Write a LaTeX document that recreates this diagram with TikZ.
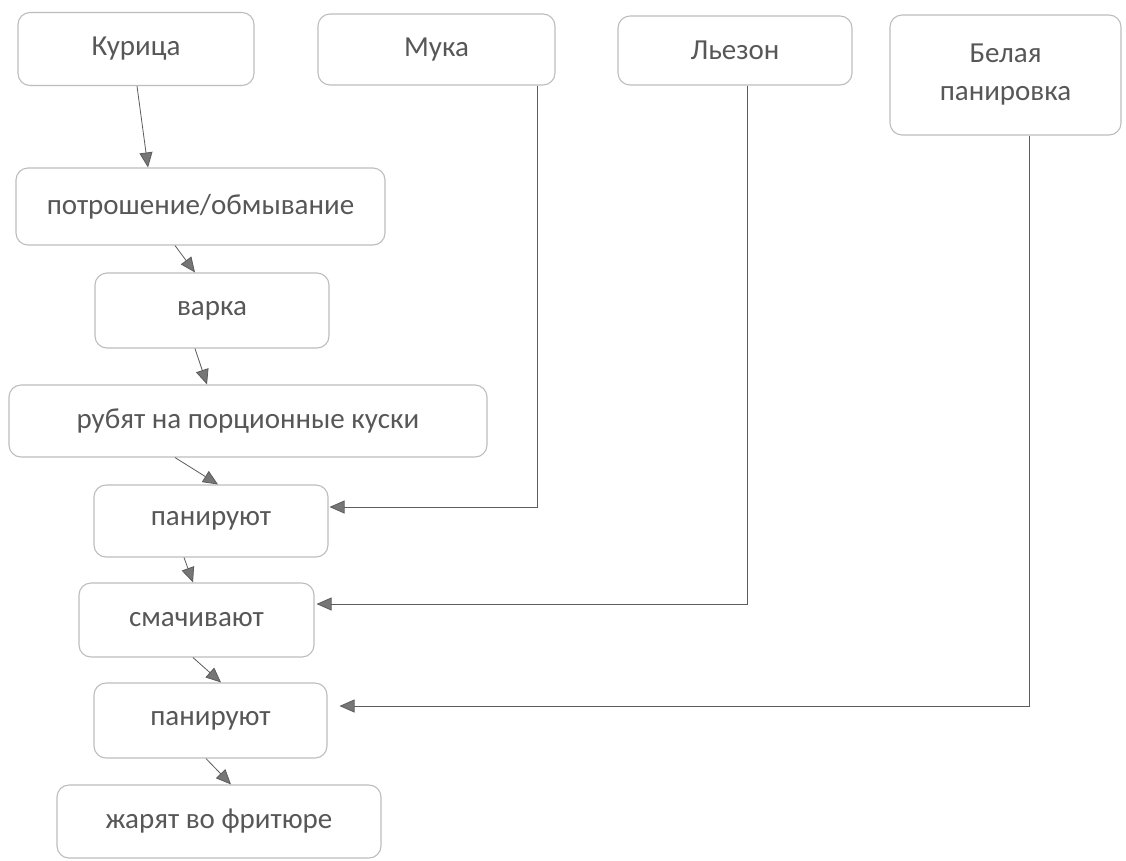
\documentclass[tikz,border=0pt]{standalone}
\usepackage{fontspec}
\setmainfont{Carlito}
\usetikzlibrary{arrows.meta}
\definecolor{boxline}{HTML}{BDBDBD}
\definecolor{txt}{HTML}{575757}
\definecolor{arr}{HTML}{5C5C5C}
\definecolor{tipc}{HTML}{767676}
\tikzset{
  box/.style={draw=boxline, line width=1.1pt, rounded corners=12pt, fill=white,
    text=txt, font=\fontsize{29}{38}\selectfont, align=center, inner sep=0pt},
  conn/.style={draw=arr, line width=0.8pt,
    -{Triangle[length=15pt,width=13pt,fill=tipc]}},
}
\begin{document}
\begin{tikzpicture}[x=1pt,y=-1pt]
\useasboundingbox[fill=white] (0,0) rectangle (1126,860);
% top row
\node[box, minimum width=236pt, minimum height=73pt] (kur) at (136,49) {Курица};
\node[box, minimum width=237pt, minimum height=71pt] (muka) at (436.5,49.5) {Мука};
\node[box, minimum width=234pt, minimum height=69pt] (lez) at (735,50.5) {Льезон};
\node[box, minimum width=231pt, minimum height=120pt] (bel) at (1005.5,75) {Белая\\панировка};
% process column
\node[box, minimum width=369pt, minimum height=77pt] (potr) at (200.5,206.5) {потрошение/обмывание};
\node[box, minimum width=234pt, minimum height=75pt] (varka) at (212,310.5) {варка};
\node[box, minimum width=478pt, minimum height=72pt] (rub) at (248,421) {рубят на порционные куски};
\node[box, minimum width=234pt, minimum height=72pt] (pan1) at (211,521) {панируют};
\node[box, minimum width=235pt, minimum height=74pt] (smach) at (196.5,620) {смачивают};
\node[box, minimum width=233pt, minimum height=75pt] (pan2) at (210.5,720.5) {панируют};
\node[box, minimum width=324pt, minimum height=73pt] (zhar) at (219,821.5) {жарят во фритюре};
% chain arrows
\draw[conn] ([xshift=1pt]kur.south) -- ([xshift=-52.5pt]potr.north);
\draw[conn] ([xshift=-25.5pt]potr.south) -- ([xshift=-17pt]varka.north);
\draw[conn] ([xshift=-17pt]varka.south) -- ([xshift=-41pt]rub.north);
\draw[conn] ([xshift=-73pt]rub.south) -- ([xshift=7pt]pan1.north);
\draw[conn] ([xshift=-27pt]pan1.south) -- ([xshift=-3.5pt]smach.north);
\draw[conn] ([xshift=-3.5pt]smach.south) -- ([xshift=10.5pt]pan2.north);
\draw[conn] ([xshift=-4.5pt]pan2.south) -- ([xshift=12pt]zhar.north);
% ingredient arrows
\draw[conn] ([xshift=100.5pt]muka.south) |- ([xshift=1pt,yshift=14pt]pan1.east);
\draw[conn] ([xshift=12pt]lez.south) |- ([xshift=2pt,yshift=16pt]smach.east);
\draw[conn] ([xshift=23.5pt]bel.south) |- ([xshift=12pt,yshift=14.5pt]pan2.east);
\end{tikzpicture}
\end{document}
